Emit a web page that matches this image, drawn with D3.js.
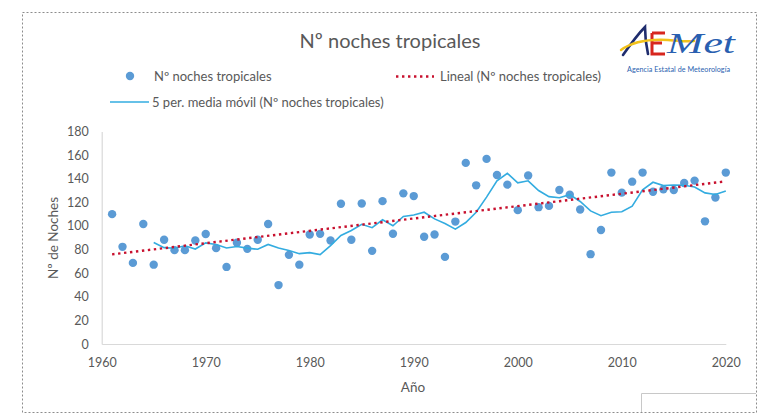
<!DOCTYPE html>
<html><head><meta charset="utf-8">
<script src="https://cdn.jsdelivr.net/npm/d3@7"></script>
<style>
html,body{margin:0;padding:0;background:#fff;}
svg{display:block;font-family:Lato,"Open Sans",sans-serif;}
</style></head>
<body><svg id="c" width="761" height="415"></svg>
<script>
const years = d3.range(1961, 2021);
const nights = [110, 82.3, 68.7, 101.7, 67.2, 88.3, 79.5, 79.5, 87.7, 93.2,
  81.2, 65.3, 85.8, 80.6, 88.3, 101.7, 49.9, 75.5, 67.2, 92.8,
  93.3, 87.7, 118.8, 88.3, 119, 78.9, 121, 93.4, 127.6, 125.3,
  90.9, 92.8, 73.8, 103.7, 153.4, 134.4, 156.8, 143.2, 135, 113.4,
  142.7, 115.9, 117, 130.4, 126.4, 113.9, 76.1, 96.6, 145.2, 128.2,
  137.5, 145.2, 129, 131, 130.4, 136.4, 138.4, 103.9, 124.1, 145.2];
const yTicks = [0, 20, 40, 60, 80, 100, 120, 140, 160, 180];
const xTicks = [1960, 1970, 1980, 1990, 2000, 2010, 2020];
const title = "Nº noches tropicales";
const serieName = "Nº noches tropicales";
const trendName = "Lineal (Nº noches tropicales)";
const maName = "5 per. media móvil (Nº noches tropicales)";

const svg = d3.select("#c");
const grey = "#595959";
const x = d3.scaleLinear().domain([1960, 2020]).range([101.7, 725.8]);
const y = d3.scaleLinear().domain([0, 180]).range([344, 131.5]);

// chart border
svg.append("rect").attr("x", 22.5).attr("y", 12.5).attr("width", 734).attr("height", 400)
  .attr("fill", "none").attr("stroke", "#8c8c8c").attr("stroke-width", 1).attr("stroke-dasharray", "2,2");
// small box bottom right
svg.append("path").attr("d", "M641.5,412 V393.5 H756").attr("fill", "none").attr("stroke", "#c8c8c8");

// title
svg.append("text").attr("x", 390).attr("y", 48).attr("text-anchor", "middle")
  .attr("font-size", 20).attr("fill", grey).text(title);

// axes
const xAxis = d3.axisBottom(x).tickValues(xTicks).tickFormat(d3.format("d")).tickSize(0).tickPadding(14);
const gx = svg.append("g").attr("transform", `translate(0,${y(0)})`).call(xAxis);
gx.select(".domain").attr("stroke", "#d9d9d9").attr("stroke-width", 1.2);
gx.selectAll("text").attr("fill", grey).attr("font-size", 12.5).attr("font-family", "Lato,sans-serif");

const yAxis = d3.axisLeft(y).tickValues(yTicks).tickSize(0).tickPadding(13);
const gy = svg.append("g").attr("transform", `translate(${x(1960)},0)`).call(yAxis);
gy.select(".domain").attr("stroke", "#d9d9d9").attr("stroke-width", 1.2);
gy.selectAll("text").attr("fill", grey).attr("font-size", 12.5).attr("font-family", "Lato,sans-serif");

svg.append("text").attr("x", 413).attr("y", 392).attr("text-anchor", "middle")
  .attr("font-size", 13.5).attr("fill", grey).text("Año");
svg.append("text").attr("transform", "translate(58,238) rotate(-90)").attr("text-anchor", "middle")
  .attr("font-size", 13.5).attr("fill", grey).text("Nº de Noches");

// linear trend (least squares on the data)
const mx = d3.mean(years), my = d3.mean(nights);
const slope = d3.sum(years, (d, i) => (d - mx) * (nights[i] - my)) / d3.sum(years, d => (d - mx) ** 2);
const icpt = my - slope * mx;
const trendPts = [years[0], years[years.length - 1]].map(t => [t, icpt + slope * t]);

// 5-period moving average
const ma = [];
for (let i = 4; i < nights.length; i++) ma.push([years[i], d3.mean(nights.slice(i - 4, i + 1))]);

const line = d3.line().x(d => x(d[0])).y(d => y(d[1]));

// points
svg.append("g").selectAll("circle").data(years).join("circle")
  .attr("cx", d => x(d)).attr("cy", (d, i) => y(nights[i])).attr("r", 4.2).attr("fill", "#5b9bd5");

svg.append("path").attr("d", line(ma)).attr("fill", "none").attr("stroke", "#33ace0").attr("stroke-width", 1.6);
svg.append("path").attr("d", line(trendPts)).attr("fill", "none").attr("stroke", "#c8102e")
  .attr("stroke-width", 2.4).attr("stroke-dasharray", "2.4,3.6");

// legend
const lg = svg.append("g").attr("font-size", 13).attr("fill", grey);
lg.append("circle").attr("cx", 130).attr("cy", 76).attr("r", 4.2).attr("fill", "#5b9bd5");
lg.append("text").attr("x", 154).attr("y", 80.5).text(serieName);
lg.append("line").attr("x1", 396).attr("x2", 434).attr("y1", 76.5).attr("y2", 76.5)
  .attr("stroke", "#c8102e").attr("stroke-width", 2.4).attr("stroke-dasharray", "2.4,3.6");
lg.append("text").attr("x", 440).attr("y", 80.5).text(trendName);
lg.append("line").attr("x1", 110).attr("x2", 149).attr("y1", 102).attr("y2", 102)
  .attr("stroke", "#33ace0").attr("stroke-width", 1.6);
lg.append("text").attr("x", 152).attr("y", 106.5).text(maName);

// AEMet logo
const logo = svg.append("g");
logo.append("path").attr("d", "M623,55 C630,45 637,35 645,27 C645,36 646,45 648,54")
  .attr("fill", "none").attr("stroke", "#1f2d6e").attr("stroke-width", 2.6).attr("stroke-linecap", "round");
logo.append("path").attr("d", "M652,33 H665 M652,33 V54 H665 M652,43 H662")
  .attr("fill", "none").attr("stroke", "#d7261e").attr("stroke-width", 3);
logo.append("path").attr("d", "M621,50 C632,42 650,39 668,40 C680,41 688,42 694,41")
  .attr("fill", "none").attr("stroke", "#f2c21b").attr("stroke-width", 2.4).attr("stroke-linecap", "round");
logo.append("text").attr("x", 667).attr("y", 53).attr("font-size", 30).attr("font-style", "italic")
  .attr("font-family", "Liberation Serif,serif").attr("fill", "#2a5fb0")
  .attr("textLength", 68).attr("lengthAdjust", "spacingAndGlyphs").text("Met");
logo.append("text").attr("x", 627).attr("y", 72).attr("font-size", 7.2).attr("fill", "#2a5fb0")
  .attr("textLength", 103).text("Agencia Estatal de Meteorología");
</script></body></html>
